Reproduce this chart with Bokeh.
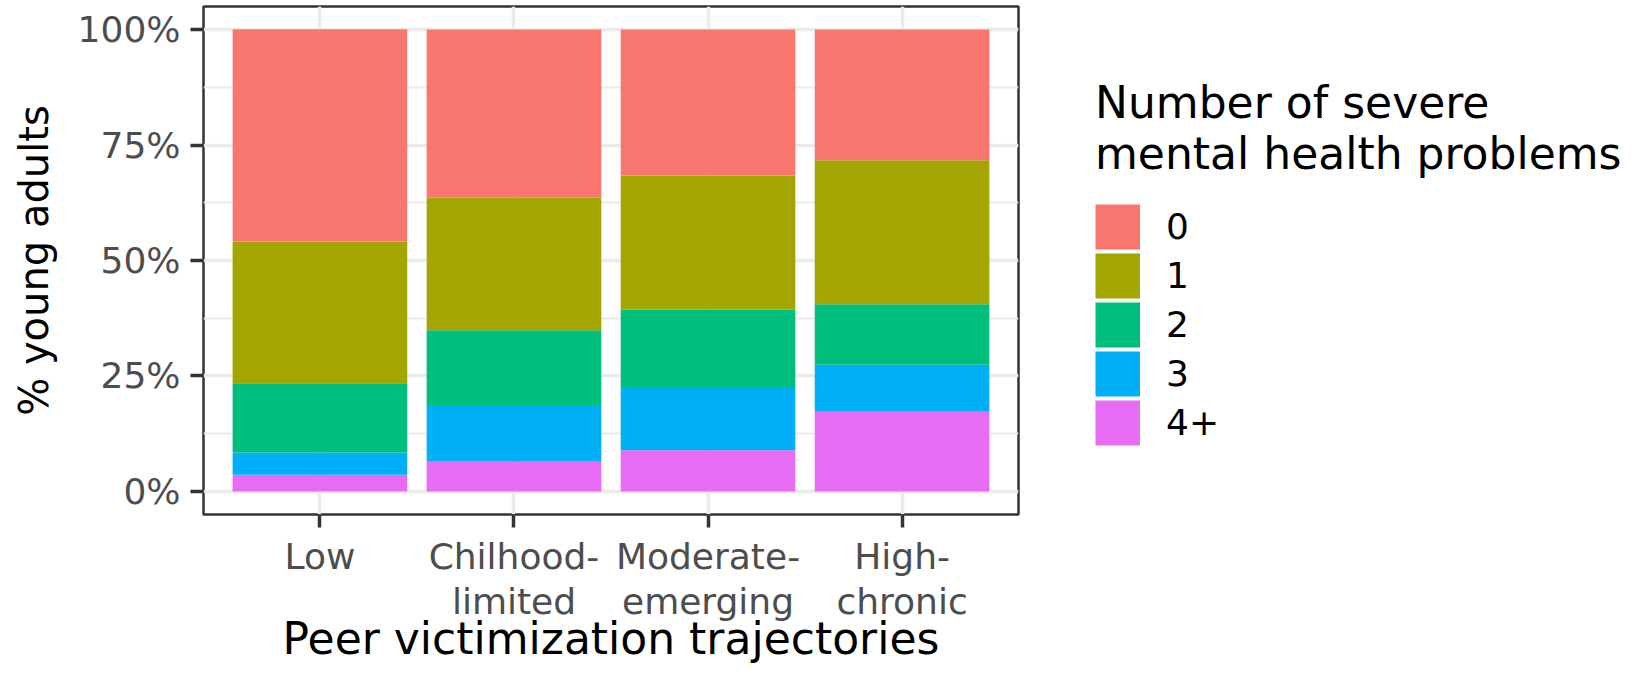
from bokeh.plotting import figure
from bokeh.models import (ColumnDataSource, FactorRange, Range1d, FixedTicker,
                          NumeralTickFormatter, Legend, LegendItem)
from bokeh.embed import file_html
from bokeh.resources import INLINE

# ---- data (proportions) ----
trajectories = ["Low", "Chilhood-\nlimited", "Moderate-\nemerging", "High-\nchronic"]
groups = ["0", "1", "2", "3", "4+"]
share_0 = [0.460, 0.364, 0.316, 0.283]
share_1 = [0.307, 0.287, 0.290, 0.312]
share_2 = [0.150, 0.162, 0.170, 0.131]
share_3 = [0.048, 0.123, 0.135, 0.100]
share_4plus = [0.036, 0.064, 0.089, 0.174]
colors = {"0": "#F8766D", "1": "#A3A500", "2": "#00BF7D", "3": "#00B0F6", "4+": "#E76BF3"}
y_ticks = [0, 0.25, 0.5, 0.75, 1.0]
y_minor = [0.125, 0.375, 0.625, 0.875]

FONT = "DejaVu Sans"

source = ColumnDataSource(data={
    "traj": trajectories,
    "0": share_0, "1": share_1, "2": share_2, "3": share_3, "4+": share_4plus,
})

p = figure(width=1619, height=667, title=None,
           x_range=FactorRange(*trajectories, range_padding=0.1, range_padding_units="absolute"),
           y_range=Range1d(-0.05, 1.05),
           output_backend="svg", toolbar_location=None,
           min_border_left=203, min_border_right=601, min_border_top=6, min_border_bottom=153)

p.background_fill_color = "white"
p.border_fill_color = "white"
p.outline_line_color = "#333333"
p.outline_line_width = 2.5

stack_order = ["4+", "3", "2", "1", "0"]
p.vbar_stack(stack_order, x="traj", width=0.9, source=source,
             fill_color=[colors[g] for g in stack_order], line_color=None)

# legend keys: thick line swatches (full-size squares); their only points lie
# outside the visible y range, so they appear in the legend only
key_renderers = {g: p.line(x=[trajectories[0], trajectories[0]], y=[-5, -5],
                           line_color=colors[g], line_width=45, line_cap="butt")
                 for g in groups}

# grids
p.xgrid.grid_line_color = "#EBEBEB"
p.xgrid.grid_line_width = 3.5
p.ygrid.grid_line_color = "#EBEBEB"
p.ygrid.grid_line_width = 3.5
p.ygrid.minor_grid_line_color = "#EBEBEB"
p.ygrid.minor_grid_line_width = 1.8

# y axis
p.yaxis.ticker = FixedTicker(ticks=y_ticks, minor_ticks=y_minor)
p.yaxis.formatter = NumeralTickFormatter(format="0%")
p.yaxis.axis_label = "% young adults"
p.yaxis.axis_label_text_font = FONT
p.yaxis.axis_label_text_font_size = "40px"
p.yaxis.axis_label_text_font_style = "normal"
p.yaxis.axis_label_text_color = "black"
p.yaxis.axis_label_standoff = 18
p.yaxis.major_label_standoff = 10

# x axis
p.xaxis.axis_label = "Peer victimization trajectories"
p.xaxis.axis_label_text_font = FONT
p.xaxis.axis_label_text_font_size = "44px"
p.xaxis.axis_label_text_font_style = "normal"
p.xaxis.axis_label_text_color = "black"
p.xaxis.axis_label_standoff = -12
p.xaxis.major_label_standoff = 8
p.xaxis.major_label_text_line_height = 1.1

for ax in (p.xaxis, p.yaxis):
    ax.axis_line_color = None
    ax.major_tick_in = 0
    ax.major_tick_out = 13
    ax.major_tick_line_width = 3.5
    ax.major_tick_line_color = "#333333"
    ax.minor_tick_in = 0
    ax.minor_tick_out = 0
    ax.major_label_text_font = FONT
    ax.major_label_text_font_size = "36px"
    ax.major_label_text_color = "#4D4D4D"

# legend
items = [LegendItem(label=g, renderers=[key_renderers[g]]) for g in groups]
legend = Legend(items=items, location=(77, 67),
                title="Number of severe\nmental health problems",
                title_text_font=FONT, title_text_font_size="44px",
                title_text_font_style="normal", title_text_color="black",
                title_text_line_height=1.25,
                title_standoff=23,
                label_text_font=FONT, label_text_font_size="36px",
                label_text_color="black", label_standoff=26,
                glyph_width=45, glyph_height=49, label_height=49, spacing=0,
                padding=0, margin=0, border_line_color=None,
                background_fill_alpha=0)
p.add_layout(legend, "right")

open("out.html", "w").write(file_html(p, INLINE))
